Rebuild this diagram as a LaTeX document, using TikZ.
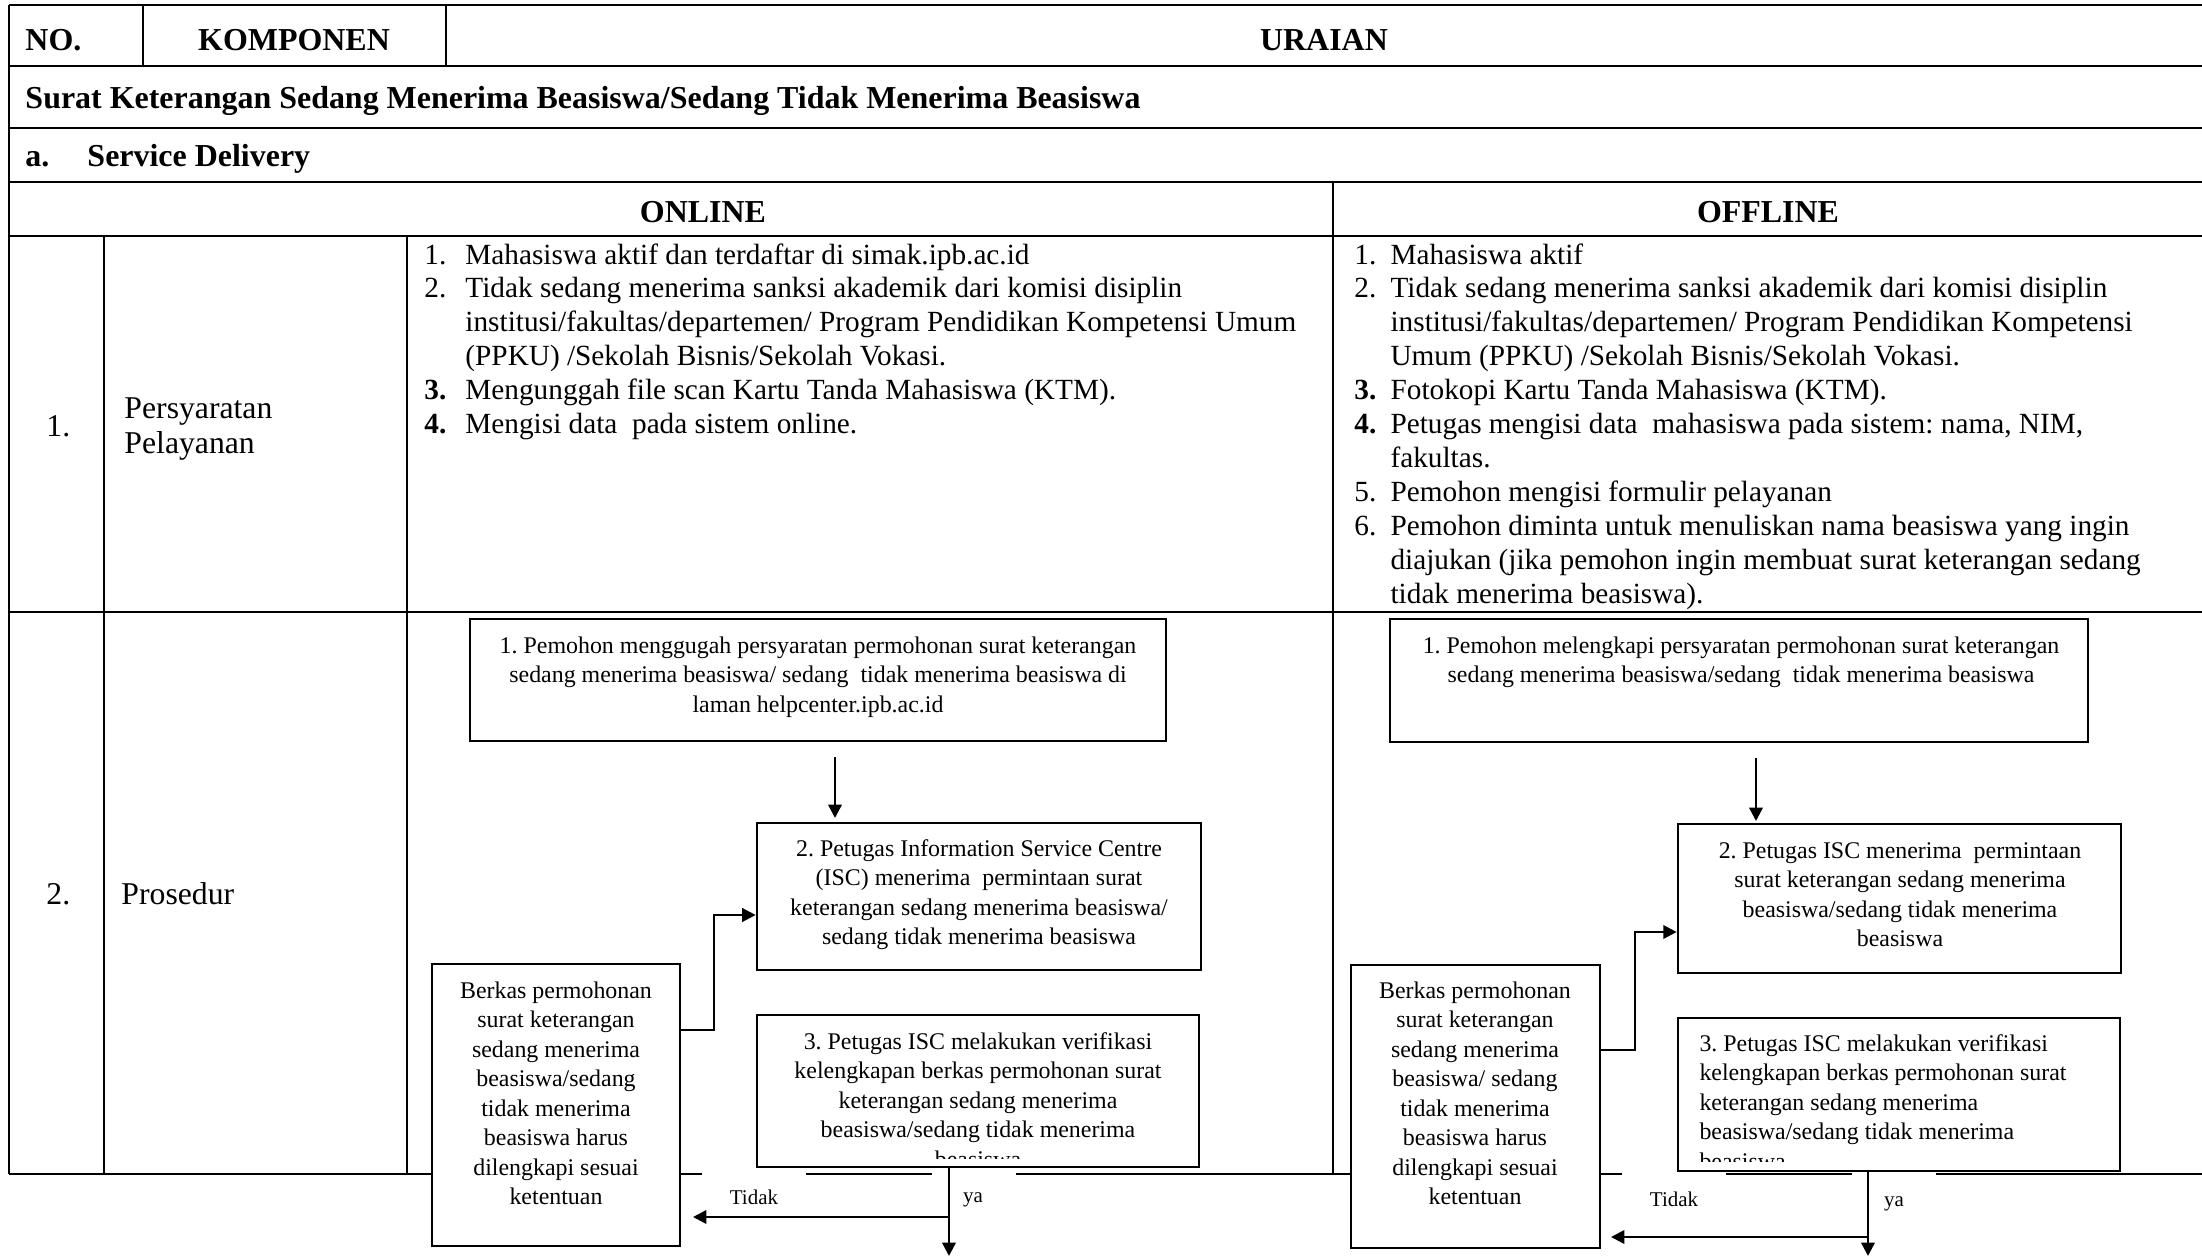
\documentclass[tikz,border=0pt]{standalone}
\usepackage{fontspec}
\setmainfont{Liberation Serif}
\usetikzlibrary{arrows.meta,fit}
% a stack of lines whose first baseline is the node's base
\newcommand{\stackl}[2]{\begin{tabular}[t]{@{}#1@{}}#2\end{tabular}}
\frenchspacing
\begin{document}
\begin{tikzpicture}[x=0.41pt,y=-0.41pt,
  grid/.style={line width=0.8pt},
  flowbox/.style={draw, line width=1.1pt, fill=white, inner sep=0pt},
  gapbox/.style={fill=white, inner sep=0pt, minimum height=24.6pt},
  arr/.style={line width=1pt, -{Triangle[length=5.5pt,width=5.5pt]}},
  hdr/.style={font=\fontsize{13.1}{15}\selectfont\bfseries, inner sep=0pt},
  body/.style={font=\fontsize{12}{13.9}\selectfont, inner sep=0pt},
  rowlab/.style={font=\fontsize{13}{14.35}\selectfont, inner sep=0pt},
  flow/.style={font=\fontsize{9.8}{12.1}\selectfont, inner sep=0pt},
  tag/.style={font=\fontsize{8.6}{10}\selectfont, inner sep=0pt}
]
\useasboundingbox (0,0) rectangle (2202,1257);

% ---------- table rules ----------
\foreach \yy in {5,66,128,182,236,612,1174}
  \draw[grid] (9,\yy) -- (2202,\yy);
\draw[grid] (9,5) -- (9,1174);
\draw[grid] (143,5) -- (143,66);
\draw[grid] (446,5) -- (446,66);
\draw[grid] (104,236) -- (104,1174);
\draw[grid] (407,236) -- (407,1174);
\draw[grid] (1333,182) -- (1333,1174);

% ---------- header texts ----------
\node[hdr, anchor=base west] (hno) at (25,50) {NO.};
\node[hdr, anchor=base] (hkomp) at (294,50) {KOMPONEN};
\node[hdr, anchor=base] (hurai) at (1324,50) {URAIAN};
\node[hdr, anchor=base west] (title) at (25,108)
  {Surat Keterangan Sedang Menerima Beasiswa/Sedang Tidak Menerima Beasiswa};
\node[hdr, anchor=base west] (sda) at (25,166) {a.};
\node[hdr, anchor=base west] (sdb) at (87,166) {Service Delivery};
\node[hdr, anchor=base] (honline) at (703,222) {ONLINE};
\node[hdr, anchor=base] (hoffline) at (1768,222) {OFFLINE};

% ---------- row 1 ----------
\node[rowlab, anchor=base west] (r1no) at (46,436) {1.};
\node[rowlab, anchor=base west] (r1lab) at (124,418)
  {\stackl{l}{Persyaratan\\Pelayanan}};

\node[body, anchor=base west] (onreq) at (424,264)
  {\stackl{p{16.8pt}@{}l}{%
  1. & Mahasiswa aktif dan terdaftar di simak.ipb.ac.id\\
  2. & Tidak sedang menerima sanksi akademik dari komisi disiplin\\
     & institusi/fakultas/departemen/ Program Pendidikan Kompetensi Umum\\
     & (PPKU) /Sekolah Bisnis/Sekolah Vokasi.\\
  \textbf{3.} & Mengunggah file scan Kartu Tanda Mahasiswa (KTM).\\
  \textbf{4.} & Mengisi data~ pada sistem online.}};

\node[body, anchor=base west] (offreq) at (1354,264)
  {\stackl{p{14.8pt}@{}l}{%
  1. & Mahasiswa aktif\\
  2. & Tidak sedang menerima sanksi akademik dari komisi disiplin\\
     & institusi/fakultas/departemen/ Program Pendidikan Kompetensi\\
     & Umum (PPKU) /Sekolah Bisnis/Sekolah Vokasi.\\
  \textbf{3.} & Fotokopi Kartu Tanda Mahasiswa (KTM).\\
  \textbf{4.} & Petugas mengisi data~ mahasiswa pada sistem: nama, NIM,\\
     & fakultas.\\
  5. & Pemohon mengisi formulir pelayanan\\
  6. & Pemohon diminta untuk menuliskan nama beasiswa yang ingin\\
     & diajukan (jika pemohon ingin membuat surat keterangan sedang\\
     & tidak menerima beasiswa).}};

% ---------- row 2 ----------
\node[rowlab, anchor=base west] (r2no) at (46,904) {2.};
\node[rowlab, anchor=base west] (r2lab) at (121,904) {Prosedur};

% white patches behind the branch labels
\node[gapbox, minimum width=42.6pt] (ontidakbg) at (754,1197) {};
\node[gapbox, minimum width=34.4pt] (onyabg) at (974,1197) {};
\node[gapbox, minimum width=42.6pt] (offtidakbg) at (1674,1199) {};
\node[gapbox, minimum width=34.4pt] (offyabg) at (1894,1199) {};

% ---------- online flow ----------
\node[flowbox, fit={(470,619) (1166,741)}] (on1) {};
\node[flowbox, fit={(757,823) (1201,970)}] (on2) {};
\node[flowbox, fit={(757,1015) (1199,1167)}] (on3) {};
\node[flowbox, fit={(432,964) (680,1246)}] (on4) {};

\node[flow, anchor=base] (on1t) at (818,653) {\stackl{c}{%
  1. Pemohon menggugah persyaratan permohonan surat keterangan\\
  sedang menerima beasiswa/ sedang~ tidak menerima beasiswa di\\
  laman helpcenter.ipb.ac.id}};
\node[flow, anchor=base] (on2t) at (979,856) {\stackl{c}{%
  2. Petugas Information Service Centre\\
  (ISC) menerima~ permintaan surat\\
  keterangan sedang menerima beasiswa/\\
  sedang tidak menerima beasiswa}};
\begin{scope}
  \clip (757,1015) rectangle (1199,1158);
  \node[flow, anchor=base] (on3t) at (978,1049) {\stackl{c}{%
    3. Petugas ISC melakukan verifikasi\\
    kelengkapan berkas permohonan surat\\
    keterangan sedang menerima\\
    beasiswa/sedang tidak menerima\\
    beasiswa}};
\end{scope}
\node[flow, anchor=base] (on4t) at (556,998) {\stackl{c}{%
  Berkas permohonan\\ surat keterangan\\ sedang menerima\\
  beasiswa/sedang\\ tidak menerima\\ beasiswa harus\\
  dilengkapi sesuai\\ ketentuan}};

\node[tag] (ontidak) at (754,1197) {Tidak};
\node[tag] (onya) at (973,1200) {ya};

% ---------- offline flow ----------
\node[flowbox, fit={(1390,619) (2088,742)}] (off1) {};
\node[flowbox, fit={(1678,824) (2121,973)}] (off2) {};
\node[flowbox, fit={(1678,1018) (2120,1171)}] (off3) {};
\node[flowbox, fit={(1351,965) (1600,1248)}] (off4) {};

\node[flow, anchor=base] (off1t) at (1741,653) {\stackl{c}{%
  1. Pemohon melengkapi persyaratan permohonan surat keterangan\\
  sedang menerima beasiswa/sedang~ tidak menerima beasiswa}};
\node[flow, anchor=base] (off2t) at (1900,858) {\stackl{c}{%
  2. Petugas ISC menerima~ permintaan\\
  surat keterangan sedang menerima\\
  beasiswa/sedang tidak menerima\\
  beasiswa}};
\begin{scope}
  \clip (1678,1018) rectangle (2120,1161);
  \node[flow, anchor=base west] (off3t) at (1699,1051) {\stackl{l}{%
    3. Petugas ISC melakukan verifikasi\\
    kelengkapan berkas permohonan surat\\
    keterangan sedang menerima\\
    beasiswa/sedang tidak menerima\\
    beasiswa}};
\end{scope}
\node[flow, anchor=base] (off4t) at (1475,998) {\stackl{c}{%
  Berkas permohonan\\ surat keterangan\\ sedang menerima\\
  beasiswa/ sedang\\ tidak menerima\\ beasiswa harus\\
  dilengkapi sesuai\\ ketentuan}};

\node[tag] (offtidak) at (1674,1199) {Tidak};
\node[tag] (offya) at (1894,1204) {ya};

% ---------- connectors ----------
\coordinate (on12a) at (835,757);
\coordinate (on12b) at (835,818);
\coordinate (onret) at (0,1030);
\coordinate (onin) at (0,915);
\coordinate (ondown) at (949,1256);
\coordinate (onnoa) at (949,1217);
\coordinate (onnob) at (693,1217);
\draw[arr] (on12a) -- (on12b);
\draw[arr] (on4.east |- onret) -| (714,915) -- (on2.west |- onin);
\draw[arr] (on3.south -| ondown) -- (ondown);
\draw[arr] (onnoa) -- (onnob);

\coordinate (off12a) at (1756,758);
\coordinate (off12b) at (1756,821);
\coordinate (offret) at (0,1050);
\coordinate (offin) at (0,932);
\coordinate (offdown) at (1868,1256);
\coordinate (offnoa) at (1868,1237);
\coordinate (offnob) at (1611,1237);
\draw[arr] (off12a) -- (off12b);
\draw[arr] (off4.east |- offret) -| (1635,932) -- (off2.west |- offin);
\draw[arr] (off3.south -| offdown) -- (offdown);
\draw[arr] (offnoa) -- (offnob);
\end{tikzpicture}
\end{document}
